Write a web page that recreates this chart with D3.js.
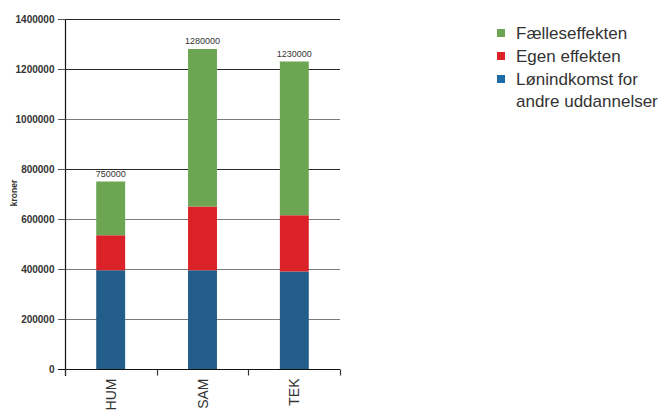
<!DOCTYPE html>
<html>
<head>
<meta charset="utf-8">
<script src="https://cdn.jsdelivr.net/npm/d3@7"></script>
<style>
  html, body { margin: 0; padding: 0; background: #fff; }
  svg { display: block; font-family: "Liberation Sans", Arial, Helvetica, sans-serif; }
</style>
</head>
<body>
<svg id="chart" width="669" height="415"></svg>
<script>
// Uddannelsesgrupper
const categories = ["HUM", "SAM", "TEK"];
// Serier (nederst til øverst)
const seriesKeys = ["lon", "egen", "faelles"];
const seriesNames = ["Lønindkomst for andre uddannelser", "Egen effekten", "Fælleseffekten"];
const lonValues = [395000, 395000, 390000];
const egenValues = [140000, 255000, 225000];
const faellesValues = [215000, 630000, 615000];
const totalLabels = ["750000", "1280000", "1230000"];
const yTicks = [0, 200000, 400000, 600000, 800000, 1000000, 1200000, 1400000];
const legendLines = [["Fælleseffekten"], ["Egen effekten"], ["Lønindkomst for", "andre uddannelser"]];

const barColors = { lon: "#235d8a", egen: "#db2228", faelles: "#6ca653" };
const legendColors = ["#6ca653", "#db2228", "#1b6ea8"];

const rows = categories.map((c, i) => ({
  cat: c, lon: lonValues[i], egen: egenValues[i], faelles: faellesValues[i], label: totalLabels[i]
}));

const svg = d3.select("#chart");
const plotLeft = 65, plotRight = 340, plotTop = 19, plotBottom = 369;

const x = d3.scaleBand().domain(categories).range([plotLeft, plotRight]).paddingInner(0.685).paddingOuter(0.34);
const y = d3.scaleLinear().domain([0, 1400000]).range([plotBottom, plotTop]);

// Gitterlinjer
const darkLines = new Set([1400000, 1200000, 800000]);
svg.append("g").selectAll("line").data(yTicks.filter(d => d > 0)).join("line")
  .attr("x1", plotLeft - 7).attr("x2", plotRight)
  .attr("y1", d => Math.round(y(d)) + 0.5).attr("y2", d => Math.round(y(d)) + 0.5)
  .attr("stroke", d => darkLines.has(d) ? "#2a2a2a" : "#7a7a7a")
  .attr("stroke-width", 1.2);

// Stablede søjler
const stack = d3.stack().keys(seriesKeys)(rows);
svg.append("g").selectAll("g").data(stack).join("g")
  .attr("fill", s => barColors[s.key])
  .selectAll("rect").data(s => s).join("rect")
  .attr("x", d => x(d.data.cat))
  .attr("width", x.bandwidth())
  .attr("y", d => y(d[1]))
  .attr("height", d => y(d[0]) - y(d[1]));

// Totaler over søjlerne
svg.append("g").selectAll("text").data(rows).join("text")
  .attr("x", d => x(d.cat) + x.bandwidth() / 2)
  .attr("y", d => y(d.lon + d.egen + d.faelles) - 5)
  .attr("text-anchor", "middle")
  .attr("font-size", 9)
  .attr("fill", "#333")
  .text(d => d.label);

// Y-akse
const yAxis = svg.append("g").attr("transform", `translate(${plotLeft + 0.5},0)`)
  .call(d3.axisLeft(y).tickValues(yTicks).tickFormat(d3.format("d")).tickSize(7).tickPadding(4));
yAxis.select(".domain").attr("d", `M0,${plotTop}V${plotBottom + 7}`).attr("stroke", "#111").attr("stroke-width", 1.2);
yAxis.selectAll(".tick line").attr("stroke", "#555");
yAxis.selectAll("text").attr("font-size", 10).attr("font-weight", "bold").attr("fill", "#333");

// X-akse
const xAxisG = svg.append("g").attr("transform", `translate(0,${plotBottom + 0.5})`);
xAxisG.append("line").attr("x1", plotLeft - 7).attr("x2", plotRight).attr("stroke", "#111").attr("stroke-width", 1.2);
const tickXs = d3.range(categories.length + 1).map(i => plotLeft + i * (plotRight - plotLeft) / categories.length);
xAxisG.selectAll("line.tk").data(tickXs).join("line")
  .attr("class", "tk")
  .attr("x1", d => Math.round(d) + 0.5).attr("x2", d => Math.round(d) + 0.5)
  .attr("y1", 0).attr("y2", 6)
  .attr("stroke", "#333").attr("stroke-width", 1.2);
xAxisG.selectAll("text").data(categories).join("text")
  .attr("transform", c => `translate(${x(c) + x.bandwidth() / 2 + 5},9) rotate(-90)`)
  .attr("text-anchor", "end")
  .attr("font-size", 14)
  .attr("fill", "#333")
  .text(c => c);

// Aksetitel
svg.append("text")
  .attr("transform", "translate(17,193) rotate(-90)")
  .attr("text-anchor", "middle")
  .attr("font-size", 8.5)
  .attr("font-weight", "bold")
  .attr("fill", "#333")
  .text("kroner");

// Forklaring
const legend = svg.append("g").attr("transform", "translate(497,0)");
const legendY = [33, 56, 79];
legendLines.forEach((lines, i) => {
  legend.append("rect").attr("x", 0).attr("y", legendY[i] - 4).attr("width", 8).attr("height", 8)
    .attr("fill", legendColors[i]);
  const t = legend.append("text").attr("x", 19).attr("y", legendY[i] + 6)
    .attr("font-size", 17).attr("fill", "#333");
  lines.forEach((l, j) => t.append("tspan").attr("x", 19).attr("dy", j === 0 ? 0 : 22).text(l));
});
</script>
</body>
</html>
